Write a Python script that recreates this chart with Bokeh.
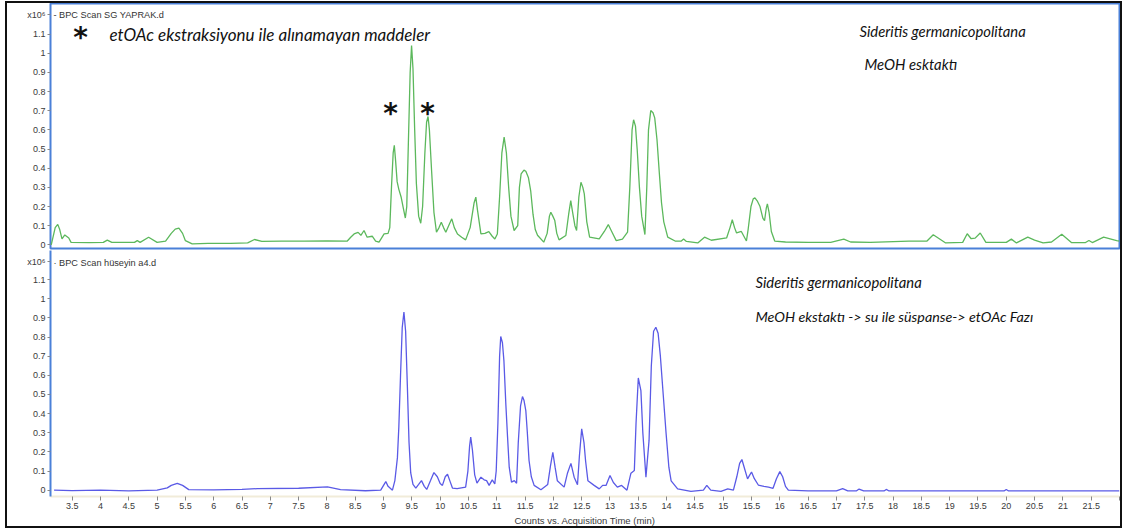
from bokeh.plotting import figure
from bokeh.layouts import column
from bokeh.models import (Range1d, FixedTicker, NumeralTickFormatter, Label,
                          CustomJSTickFormatter, InlineStyleSheet)
from bokeh.embed import file_html
from bokeh.resources import INLINE

# ---------------- data (x10^6 counts vs acquisition time, min) ----------------
t_yaprak = [3.13, 3.20, 3.245, 3.28, 3.32, 3.37, 3.44, 3.48, 3.8, 4.05, 4.12, 4.2, 4.6, 4.65, 4.7,
            4.85, 5.0, 5.15, 5.25, 5.32, 5.385, 5.45, 5.50, 5.62, 5.9, 6.3, 6.6, 6.72, 6.85, 7.2,
            7.6, 8.0, 8.36, 8.42, 8.48, 8.55, 8.6, 8.655, 8.71, 8.80, 8.86, 8.92, 9.01, 9.08,
            9.11, 9.14, 9.17, 9.19, 9.21, 9.24, 9.27, 9.31, 9.35, 9.385, 9.41, 9.44, 9.47, 9.495,
            9.52, 9.55, 9.58, 9.62, 9.657, 9.69, 9.73, 9.76, 9.786, 9.81, 9.85, 9.89, 9.935, 9.98,
            10.02, 10.06, 10.10, 10.15, 10.205, 10.25, 10.306, 10.38, 10.45, 10.53, 10.6, 10.63,
            10.66, 10.72, 10.79, 10.86, 10.92, 10.966, 11.01, 11.05, 11.09, 11.13, 11.17, 11.21,
            11.25, 11.306, 11.37, 11.40, 11.43, 11.48, 11.513, 11.56, 11.60, 11.64, 11.68, 11.72,
            11.83, 11.89, 11.93, 11.955, 11.99, 12.025, 12.06, 12.10, 12.22, 12.27, 12.307, 12.34,
            12.38, 12.41, 12.45, 12.487, 12.52, 12.546, 12.59, 12.64, 12.81, 12.9, 12.97, 13.03,
            13.11, 13.22, 13.31, 13.35, 13.39, 13.417, 13.45, 13.48, 13.52, 13.56, 13.617, 13.65,
            13.68, 13.72, 13.76, 13.79, 13.83, 13.87, 13.91, 13.95, 14.02, 14.15, 14.26, 14.3,
            14.35, 14.55, 14.67, 14.79, 15.06, 15.12, 15.16, 15.2, 15.236, 15.32, 15.41, 15.44,
            15.49, 15.53, 15.56, 15.6, 15.65, 15.7, 15.73, 15.76, 15.78, 15.81, 15.85, 15.91,
            16.1, 16.5, 16.9, 17.13, 17.25, 17.6, 18.28, 18.6, 18.71, 18.93, 19.23, 19.31, 19.38,
            19.45, 19.54, 19.64, 20.0, 20.09, 20.18, 20.38, 20.5, 20.65, 20.8, 20.98, 21.15,
            21.4, 21.46, 21.52, 21.72, 21.95, 22.0]
i_yaprak = [0.0, 0.09, 0.107, 0.08, 0.031, 0.052, 0.036, 0.013, 0.012, 0.013, 0.025, 0.013, 0.013, 0.022, 0.013,
            0.04, 0.013, 0.02, 0.06, 0.082, 0.087, 0.06, 0.022, 0.005, 0.008, 0.008, 0.01, 0.028, 0.018, 0.02,
            0.02, 0.021, 0.02, 0.04, 0.057, 0.065, 0.05, 0.075, 0.04, 0.045, 0.02, 0.014, 0.057, 0.06,
            0.09, 0.30, 0.48, 0.52, 0.45, 0.33, 0.29, 0.25, 0.19, 0.14, 0.20, 0.55, 0.90, 1.04,
            0.92, 0.60, 0.32, 0.15, 0.113, 0.20, 0.48, 0.64, 0.67, 0.60, 0.38, 0.17, 0.066, 0.09,
            0.118, 0.09, 0.066, 0.10, 0.136, 0.09, 0.057, 0.04, 0.026, 0.09, 0.22, 0.249,
            0.18, 0.057, 0.06, 0.069, 0.045, 0.031, 0.057, 0.25, 0.48, 0.562, 0.48, 0.30,
            0.15, 0.075, 0.10, 0.30, 0.37, 0.39, 0.384, 0.35, 0.28, 0.16, 0.08, 0.05,
            0.014, 0.06, 0.15, 0.17, 0.15, 0.127, 0.06, 0.026, 0.049, 0.16, 0.231, 0.17,
            0.10, 0.075, 0.25, 0.327, 0.30, 0.266, 0.12, 0.04, 0.031, 0.07, 0.106, 0.07,
            0.022, 0.03, 0.066, 0.30, 0.60, 0.653, 0.62, 0.50, 0.30, 0.15, 0.054, 0.30,
            0.60, 0.701, 0.69, 0.663, 0.55, 0.38, 0.22, 0.12, 0.04, 0.02, 0.02, 0.03,
            0.018, 0.01, 0.04, 0.024, 0.036, 0.09, 0.131, 0.09, 0.062, 0.07, 0.02, 0.08,
            0.20, 0.24, 0.245, 0.23, 0.20, 0.14, 0.126, 0.19, 0.214, 0.17, 0.07, 0.02,
            0.015, 0.013, 0.013, 0.03, 0.015, 0.013, 0.02, 0.02, 0.053, 0.01, 0.013, 0.058, 0.032,
            0.035, 0.062, 0.013, 0.013, 0.03, 0.01, 0.04, 0.025, 0.01, 0.015, 0.055, 0.012,
            0.012, 0.023, 0.012, 0.04, 0.022, 0.02]

t_huseyin = [3.18, 3.5, 4.0, 4.5, 5.0, 5.18, 5.25, 5.356, 5.45, 5.56, 6.0, 6.5, 6.77, 7.5, 8.01,
             8.24, 8.68, 8.95, 9.0, 9.04, 9.08, 9.157, 9.2, 9.245, 9.27, 9.30, 9.33, 9.36, 9.39,
             9.42, 9.45, 9.48, 9.52, 9.57, 9.62, 9.67, 9.72, 9.763, 9.83, 9.89, 9.95, 10.0, 10.04,
             10.09, 10.13, 10.17, 10.217, 10.3, 10.45, 10.49, 10.52, 10.54, 10.57, 10.61, 10.65,
             10.72, 10.776, 10.82, 10.865, 10.92, 10.965, 10.99, 11.02, 11.05, 11.07, 11.10,
             11.126, 11.16, 11.19, 11.22, 11.26, 11.31, 11.35, 11.38, 11.42, 11.454, 11.48,
             11.513, 11.54, 11.57, 11.61, 11.66, 11.78, 11.9, 11.95, 11.99, 12.03, 12.07, 12.19,
             12.25, 12.31, 12.367, 12.426, 12.46, 12.50, 12.54, 12.57, 12.61, 12.72, 12.81, 12.87,
             12.93, 13.0, 13.06, 13.13, 13.205, 13.30, 13.37, 13.43, 13.46, 13.50, 13.546, 13.58,
             13.635, 13.69, 13.73, 13.77, 13.81, 13.85, 13.89, 13.94, 13.99, 14.04, 14.08, 14.195,
             14.43, 14.65, 14.71, 14.78, 14.96, 15.08, 15.18, 15.24, 15.29, 15.33, 15.37, 15.43,
             15.47, 15.5, 15.55, 15.62, 15.72, 15.8, 15.88, 15.94, 16.0, 16.05, 16.1, 16.15, 16.5,
             17.0, 17.11, 17.2, 17.35, 17.4, 17.48, 17.84, 17.88, 17.93, 19.96, 20.0, 20.04, 22.0]
i_huseyin = [0.0, -0.002, 0.0, -0.004, 0.0, 0.012, 0.025, 0.036, 0.025, 0.003, 0.002, 0.004, 0.008, 0.01, 0.017,
             0.003, -0.003, 0.0, 0.025, 0.045, 0.02, 0.0, 0.05, 0.17, 0.33, 0.60, 0.85, 0.93, 0.83,
             0.55, 0.25, 0.09, 0.03, 0.011, 0.03, 0.05, 0.02, 0.004, 0.05, 0.092, 0.07, 0.035, 0.025,
             0.07, 0.083, 0.05, 0.011, 0.008, 0.016, 0.10, 0.23, 0.277, 0.21, 0.08, 0.037,
             0.068, 0.054, 0.05, 0.025, 0.054, 0.033, 0.10, 0.35, 0.70, 0.803, 0.77,
             0.677, 0.45, 0.28, 0.12, 0.042, 0.05, 0.036, 0.25, 0.44, 0.489, 0.47,
             0.416, 0.30, 0.155, 0.07, 0.025, 0.002, 0.03, 0.13, 0.198, 0.12, 0.049, 0.016,
             0.09, 0.14, 0.068, 0.028, 0.18, 0.32, 0.25, 0.15, 0.049, 0.025, 0.007, 0.025,
             0.025, 0.077, 0.04, 0.016, 0.025, 0.0, 0.089, 0.103, 0.35, 0.586, 0.52, 0.30,
             0.068, 0.26, 0.65, 0.83, 0.851, 0.82, 0.70, 0.50, 0.30, 0.12, 0.049, 0.007,
             -0.006, 0.0, 0.025, 0.0, -0.006, 0.007, 0.0, 0.07, 0.14, 0.16, 0.12, 0.059,
             0.08, 0.095, 0.06, 0.027, 0.02, 0.016, 0.01, 0.06, 0.097, 0.07, 0.02, 0.0, -0.004,
             -0.004, 0.008, -0.004, -0.004, 0.006, -0.004, -0.004, 0.004, -0.004, -0.004, 0.004, -0.004, -0.004]

x_ticks = [3.5, 4, 4.5, 5, 5.5, 6, 6.5, 7, 7.5, 8, 8.5, 9, 9.5, 10, 10.5, 11, 11.5, 12, 12.5, 13,
           13.5, 14, 14.5, 15, 15.5, 16, 16.5, 17, 17.5, 18, 18.5, 19, 19.5, 20, 20.5, 21, 21.5, 22]
y_ticks = [0, 0.1, 0.2, 0.3, 0.4, 0.5, 0.6, 0.7, 0.8, 0.9, 1.0, 1.1]
y_scale_label = "x10\u2076"

title_top = "- BPC Scan SG YAPRAK.d"
title_bot = "\u00b7 BPC Scan h\u00fcseyin a4.d"
note_star = "etOAc ekstraksiyonu ile al\u0131namayan maddeler"
species = "Sideritis germanicopolitana"
sub_top = "MeOH esktakt\u0131"
sub_bot = "MeOH ekstakt\u0131 -> su ile s\u00fcspanse-> etOAc Faz\u0131"
x_title = "Counts vs. Acquisition Time (min)"

# ---------------- layout geometry ----------------
W = 1125
X0, X1 = 3.117, 22.0
FL, FR = 50, 1119
Y1 = (-0.019, 1.26)   # top panel, frame rows 3..248
Y2 = (-0.033, 1.252)  # bottom panel, frame rows 250..496

def dx(px):
    return X0 + (px - FL) / (FR - FL) * (X1 - X0)

def dy1(py):
    return Y1[1] - (py - 3) / 245.0 * (Y1[1] - Y1[0])

def dy2(py):
    return Y2[1] - (py - 250) / 246.0 * (Y2[1] - Y2[0])

TICK_FONT = "Liberation Sans"
TXT_FONT = "Lato"
BLUE_FRAME = "#4a80d8"

def style_y(p, scale_pos):
    ax = p.yaxis[0]
    ax.ticker = FixedTicker(ticks=y_ticks + [scale_pos])
    ax.formatter = CustomJSTickFormatter(
        args=dict(lbl=y_scale_label),
        code="if (tick > 1.15) { return lbl; } return String(Math.round(tick * 10) / 10);")
    ax.major_label_text_font = TICK_FONT
    ax.major_label_text_font_size = "9px"
    ax.major_label_text_color = "#3a3a3a"
    ax.major_tick_in = 0
    ax.major_tick_out = 3
    ax.major_tick_line_color = "#888888"
    ax.minor_tick_line_color = None
    ax.major_label_standoff = 2

def lab(p, x, y, text, size, font=TICK_FONT, style="normal", align="left", color="#222222"):
    p.add_layout(Label(x=x, y=y, text=text, text_font=font, text_font_size=size,
                       text_font_style=style, text_align=align, text_baseline="middle",
                       text_color=color))

x_range = Range1d(X0, X1)

# ---------------- top panel ----------------
p1 = figure(width=W, height=250, x_range=x_range, y_range=Range1d(*Y1),
            output_backend="svg", toolbar_location=None,
            min_border_left=FL, min_border_right=W - FR, min_border_top=3, min_border_bottom=2)
p1.xaxis.visible = False
p1.grid.visible = False
p1.outline_line_color = BLUE_FRAME
p1.outline_line_width = 2
p1.outline_line_alpha = 1.0
p1.border_fill_color = "white"
style_y(p1, dy1(14))
p1.yaxis.axis_line_color = None
p1.line(t_yaprak, i_yaprak, line_color="#5cb85c", line_width=1.3)

lab(p1, dx(53), dy1(14), title_top, "9.2px", color="#333333")
lab(p1, dx(80), dy1(37), "*", "28px", font="DejaVu Sans", style="bold", align="center", color="#111111")
lab(p1, dx(109), dy1(34), note_star, "17px", font=TXT_FONT, style="italic", color="#111111")
lab(p1, dx(390), dy1(113), "*", "28px", font="DejaVu Sans", style="bold", align="center", color="#111111")
lab(p1, dx(427), dy1(113), "*", "28px", font="DejaVu Sans", style="bold", align="center", color="#111111")
lab(p1, dx(859), dy1(30), species, "14.8px", font=TXT_FONT, style="italic", color="#111111")
lab(p1, dx(864), dy1(63), sub_top, "14.8px", font=TXT_FONT, style="italic", color="#111111")

# ---------------- bottom panel ----------------
p2 = figure(width=W, height=281, x_range=x_range, y_range=Range1d(*Y2),
            output_backend="svg", toolbar_location=None,
            min_border_left=FL, min_border_right=W - FR, min_border_top=0, min_border_bottom=35)
p2.grid.visible = False
p2.outline_line_color = None
p2.border_fill_color = "white"
style_y(p2, dy2(261))
p2.yaxis.axis_line_color = BLUE_FRAME
p2.yaxis.axis_line_width = 2
xa = p2.xaxis[0]
xa.ticker = FixedTicker(ticks=x_ticks)
xa.formatter = NumeralTickFormatter(format="0.[0]")
xa.major_label_overrides = {22: ""}
xa.major_label_text_font = TICK_FONT
xa.major_label_text_font_size = "9px"
xa.major_label_text_color = "#3a3a3a"
xa.major_tick_in = 0
xa.major_tick_out = 4
xa.major_tick_line_color = "#888888"
xa.minor_tick_line_color = None
xa.major_label_standoff = 2
xa.axis_line_color = "#f1ecd9"
xa.axis_line_width = 2
xa.axis_label = x_title
xa.axis_label_text_font = TICK_FONT
xa.axis_label_text_font_size = "9.5px"
xa.axis_label_text_font_style = "normal"
xa.axis_label_text_color = "#3a3a3a"
xa.axis_label_standoff = 3
p2.line(t_huseyin, i_huseyin, line_color="#5a5ae6", line_width=1.3)

lab(p2, dx(53), dy2(262), title_bot, "9.2px", color="#333333")
lab(p2, dx(755), dy2(281), species, "14.8px", font=TXT_FONT, style="italic", color="#111111")
lab(p2, dx(755), dy2(316), sub_bot, "14.3px", font=TXT_FONT, style="italic", color="#111111")

frame_css = InlineStyleSheet(css="""
:host { position: relative; }
:host::after {
  content: "";
  position: absolute;
  left: 5px; top: 1px;
  width: 1117px; height: 527px;
  border: 2px solid #111111;
  box-sizing: border-box;
  pointer-events: none;
  z-index: 50;
}
""")

layout = column(p1, p2, spacing=0, stylesheets=[frame_css])

open("out.html", "w").write(file_html(layout, INLINE))
